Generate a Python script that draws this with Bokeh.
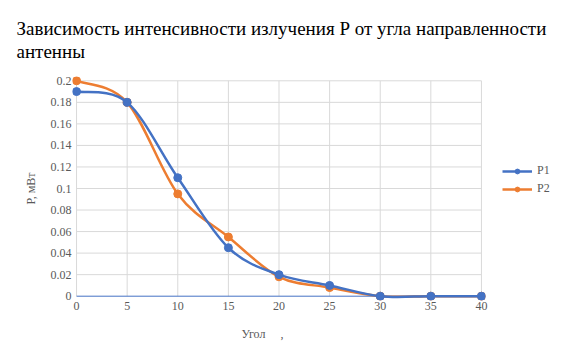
from bokeh.plotting import figure
from bokeh.models import Range1d, FixedTicker, Legend, LegendItem, ColumnDataSource
from bokeh.embed import file_html
from bokeh.resources import INLINE

# ---- data ----
angles = [0, 5, 10, 15, 20, 25, 30, 35, 40]
p1 = [0.19, 0.18, 0.11, 0.045, 0.02, 0.01, 0.0, 0.0, 0.0]
p2 = [0.20, 0.18, 0.095, 0.055, 0.018, 0.008, 0.0, 0.0, 0.0]
x_ticks = [0, 5, 10, 15, 20, 25, 30, 35, 40]
y_ticks = [0, 0.02, 0.04, 0.06, 0.08, 0.1, 0.12, 0.14, 0.16, 0.18, 0.2]
y_tick_labels = ["0", "0.02", "0.04", "0.06", "0.08", "0.1", "0.12", "0.14", "0.16", "0.18", "0.2"]
series_names = ["P1", "P2"]
colors = ["#4472C4", "#ED7D31"]
title_text = "Зависимость интенсивности излучения Р от угла направленности\nантенны"

FONT = "Liberation Serif"
GRID = "#D9D9D9"
TXT = "#595959"

p = figure(width=561, height=358, output_backend="svg", toolbar_location=None,
           x_range=Range1d(-0.4, 40.4), y_range=Range1d(-0.004, 0.204),
           frame_width=413, frame_height=224,
           min_border_left=72, min_border_right=76, min_border_top=76, min_border_bottom=58)
p.outline_line_color = None
p.border_fill_color = "white"
p.background_fill_color = "white"

p.title.text = title_text
p.title.text_font = FONT
p.title.text_font_size = "19px"
p.title.text_font_style = "normal"
p.title.text_color = "#000000"
p.title.text_line_height = 1.1
p.title.align = "left"
p.title.offset = -56
p.title.standoff = 28

p.xgrid.visible = False
p.ygrid.visible = False

# grid drawn from tick arrays
x_lo, x_hi = x_ticks[0], x_ticks[-1]
y_lo, y_hi = y_ticks[0], y_ticks[-1]
p.segment(x0=[x_lo] * (len(y_ticks) - 1), x1=[x_hi] * (len(y_ticks) - 1),
          y0=y_ticks[1:], y1=y_ticks[1:], line_color=GRID, line_width=1)
p.segment(x0=x_ticks, x1=x_ticks, y0=[y_lo] * len(x_ticks), y1=[y_hi] * len(x_ticks),
          line_color=GRID, line_width=1)
p.segment(x0=[x_lo], x1=[x_hi], y0=[y_lo], y1=[y_lo], line_color="#4472C4", line_width=1)

for ax in (p.xaxis[0], p.yaxis[0]):
    ax.axis_line_color = None
    ax.major_tick_line_color = None
    ax.minor_tick_line_color = None
    ax.major_tick_out = 0
    ax.major_tick_in = 0
    ax.minor_tick_out = 0
    ax.minor_tick_in = 0
    ax.major_label_text_font = FONT
    ax.major_label_text_font_size = "12px"
    ax.major_label_text_color = TXT
    ax.axis_label_text_font = FONT
    ax.axis_label_text_font_size = "12px"
    ax.axis_label_text_font_style = "normal"
    ax.axis_label_text_color = TXT

p.xaxis.ticker = FixedTicker(ticks=x_ticks)
p.yaxis.ticker = FixedTicker(ticks=y_ticks)
p.yaxis.major_label_overrides = {t: l for t, l in zip(y_ticks, y_tick_labels)}
p.xaxis.major_label_standoff = 1
p.yaxis.major_label_standoff = 1
p.xaxis.axis_label = "Угол\u00a0\u00a0\u00a0\u00a0\u00a0," + "\u00a0" * 11
p.yaxis.axis_label = "Р, мВт"
p.xaxis.axis_label_standoff = 14
p.yaxis.axis_label_standoff = 10


def bezier_source(xs, ys):
    n = len(xs)
    d = dict(x0=[], y0=[], x1=[], y1=[], cx0=[], cy0=[], cx1=[], cy1=[])
    for i in range(n - 1):
        a = max(i - 1, 0)
        b = min(i + 2, n - 1)
        d["x0"].append(xs[i]); d["y0"].append(ys[i])
        d["x1"].append(xs[i + 1]); d["y1"].append(ys[i + 1])
        d["cx0"].append(xs[i] + (xs[i + 1] - xs[a]) / 6)
        d["cy0"].append(ys[i] + (ys[i + 1] - ys[a]) / 6)
        d["cx1"].append(xs[i + 1] - (xs[b] - xs[i]) / 6)
        d["cy1"].append(ys[i + 1] - (ys[b] - ys[i]) / 6)
    return ColumnDataSource(d)


items = []
for name, ys, col in reversed(list(zip(series_names, [p1, p2], colors))):
    src = bezier_source(angles, ys)
    br = p.bezier(x0="x0", y0="y0", x1="x1", y1="y1", cx0="cx0", cy0="cy0",
                  cx1="cx1", cy1="cy1", source=src, line_color=col, line_width=2.5)
    sr = p.scatter(angles, ys, size=8, marker="circle", fill_color=col, line_color=col)
    items.append((name, [br, sr]))

legend = Legend(items=[LegendItem(label=n, renderers=r) for n, r in reversed(items)],
                location=(17, 104), orientation="vertical",
                background_fill_alpha=0, border_line_color=None,
                padding=0, margin=0, spacing=3, glyph_width=30, glyph_height=12,
                label_standoff=5, label_text_font=FONT, label_text_font_size="12px",
                label_text_color=TXT, label_height=12)
p.add_layout(legend, "right")

open("out.html", "w").write(file_html(p, INLINE))
